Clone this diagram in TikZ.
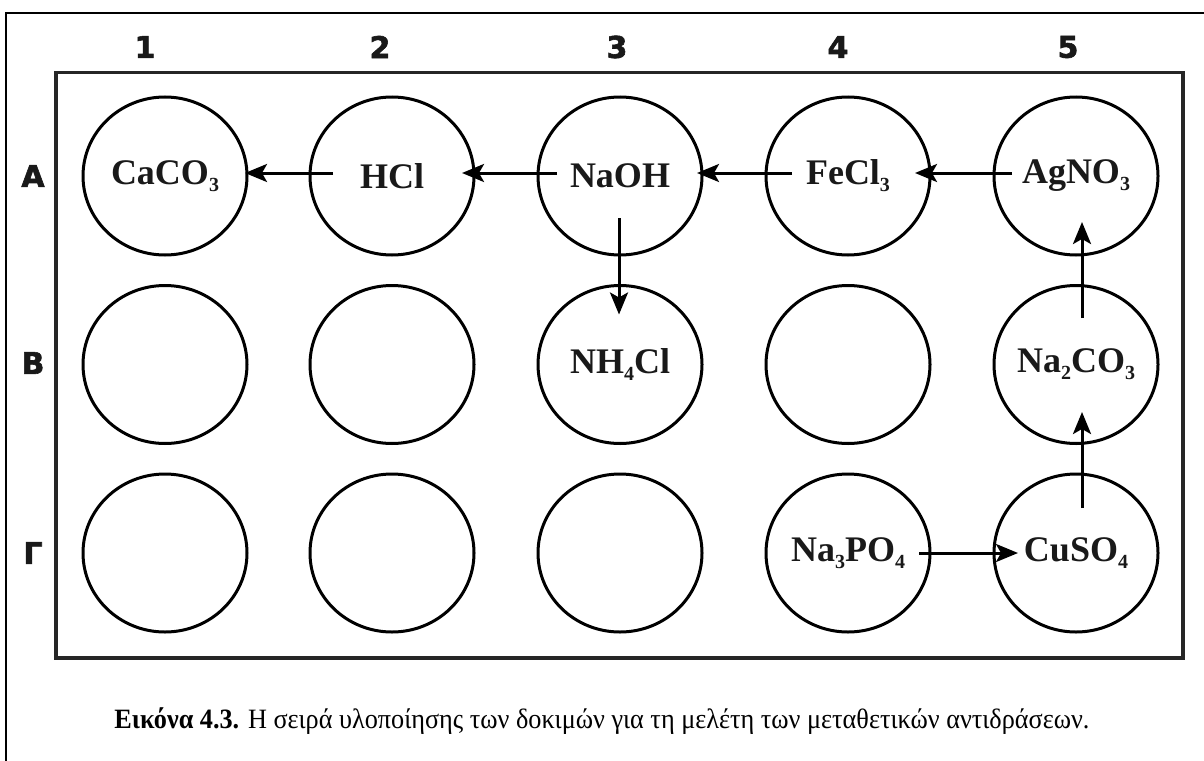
\documentclass[tikz,border=0pt]{standalone}
\usepackage{fontspec}
\usepackage{graphicx}
\setmainfont{Liberation Serif}
\newfontfamily\lblfont{DejaVu Sans}[UprightFont={* Bold},UprightFeatures={FakeBold=2}]
\usetikzlibrary{shapes.geometric,arrows.meta}
\newcommand\chemsub[1]{\raisebox{-7pt}{\fontsize{20}{20}\selectfont #1}}
\begin{document}
\begin{tikzpicture}[x=1pt,y=-1pt,
  well/.style={ellipse,draw,line width=3pt,minimum width=164pt,minimum height=158pt,inner sep=0pt},
  chem/.style={font=\fontsize{36}{40}\selectfont\bfseries,inner sep=0pt,text=black!90},
  lbl/.style={font=\lblfont\fontsize{30}{36}\selectfont,inner sep=0pt,text=black!90},
  arr/.style={line width=3pt,-{Stealth[length=22pt,width=18pt,inset=5pt]}}]
\useasboundingbox (0,0) rectangle (1204,760);
% frames
\draw[line width=2.4pt] (1210,13) -| (6,766);
\draw[line width=3.4pt,black!85] (56,72.5) rectangle (1183,658);
% column and row labels
\node[lbl] (k1) at (145,47) {1};
\node[lbl] (k2) at (380,47) {2};
\node[lbl] (k3) at (617,47) {3};
\node[lbl] (k4) at (838,47) {4};
\node[lbl] (k5) at (1068,47) {5};
\node[lbl] (rA) at (33,176) {A};
\node[lbl] (rB) at (33,363) {B};
\node[lbl] (rG) at (33,553) {Γ};
% wells
\foreach \c/\x in {1/165,2/392,3/620,4/848,5/1076}{
  \node[well] (a\c) at (\x,176) {};
  \node[well] (b\c) at (\x,364.5) {};
  \node[well] (g\c) at (\x,553) {};
}
% texts
\node[chem] (ta1) at (a1.center) {CaCO\chemsub{3}};
\node[chem] (ta2) at (a2.center) {HCl};
\node[chem] (ta3) at (a3.center) {NaOH};
\node[chem] (ta4) at (a4.center) {FeCl\chemsub{3}};
\node[chem] (ta5) at (a5.center) {AgNO\chemsub{3}};
\node[chem] (tb3) at (b3.center) {NH\chemsub{4}Cl};
\node[chem] (tb5) at (b5.center) {Na\chemsub{2}CO\chemsub{3}};
\node[chem] (tg4) at (g4.center) {Na\chemsub{3}PO\chemsub{4}};
\node[chem] (tg5) at (g5.center) {CuSO\chemsub{4}};
% arrows
\draw[arr] ([xshift=-59pt,yshift=3pt]a2.center) -- ([xshift=80pt,yshift=3pt]a1.center);
\draw[arr] ([xshift=-63pt,yshift=3pt]a3.center) -- ([xshift=70pt,yshift=3pt]a2.center);
\draw[arr] ([xshift=-56pt,yshift=3pt]a4.center) -- ([xshift=77pt,yshift=3pt]a3.center);
\draw[arr] ([xshift=-64pt,yshift=3pt]a5.center) -- ([xshift=67pt,yshift=3pt]a4.center);
\draw[arr] ([xshift=-1pt,yshift=-42pt]a3.center) -- ([xshift=-1pt,yshift=50pt]b3.center);
\draw[arr] ([xshift=6pt,yshift=46.5pt]b5.center) -- ([xshift=6pt,yshift=-46pt]a5.center);
\draw[arr] ([xshift=6pt,yshift=45pt]g5.center) -- ([xshift=6pt,yshift=-47.5pt]b5.center);
\draw[arr] ([xshift=71pt]g4.center) -- ([xshift=-58pt]g5.center);
% caption
\node[inner sep=0pt] (cap) at (602,721) {\resizebox{975pt}{\height}{\fontsize{28}{32}\selectfont\textbf{Εικόνα 4.3.} Η σειρά υλοποίησης των δοκιμών για τη μελέτη των μεταθετικών αντιδράσεων.}};
\end{tikzpicture}
\end{document}
